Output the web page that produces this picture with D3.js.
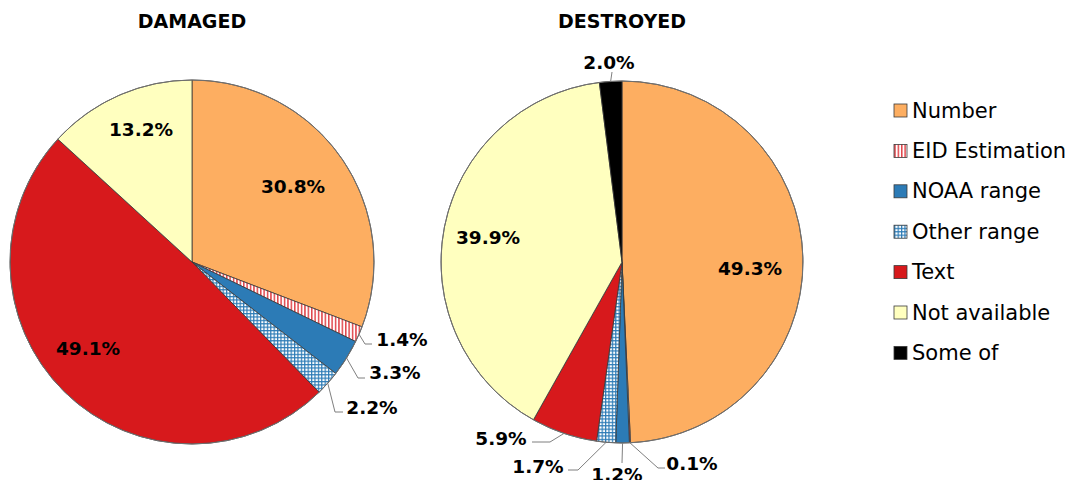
<!DOCTYPE html>
<html>
<head>
<meta charset="utf-8">
<script src="https://cdn.jsdelivr.net/npm/d3@7"></script>
<style>
  html, body { margin: 0; padding: 0; background: #ffffff; }
  svg { display: block; }
</style>
</head>
<body>
<div id="chart"></div>
<script>
// ---------- DATA ----------
const categories = ["Number", "EID Estimation", "NOAA range", "Other range", "Text", "Not available", "Some of"];
const damagedValues   = [30.8, 1.4, 3.3, 2.2, 49.1, 13.2, 0];
const destroyedValues = [49.3, 0.1, 1.2, 1.7, 5.9, 39.9, 2.0];
const chartTitles = ["DAMAGED", "DESTROYED"];

// ---------- LAYOUT / STYLE ----------
const W = 1070, H = 480;
const fills = ["#FDAE61", "url(#eidPat)", "#2C7BB6", "url(#otherPat)", "#D7191C", "#FFFFBF", "#000000"];

// label placement relative to pie centre (text centre), plus leader line points
const damagedLabelLayout = [
  {type: "in",  x: 101, y: -76},
  {type: "out", x: 210, y: 77,  elbow: [173, 82],  end: [180, 82]},
  {type: "out", x: 203, y: 110, elbow: [166, 116], end: [173, 116]},
  {type: "out", x: 180, y: 145, elbow: [143, 150], end: [151, 150]},
  {type: "in",  x: -104, y: 86},
  {type: "in",  x: -51, y: -133},
  null
];
const destroyedLabelLayout = [
  {type: "in",  x: 128, y: 6},
  {type: "out", x: 70,  y: 201, elbow: [36, 206],  end: [43, 206]},
  {type: "out", x: -5,  y: 212, elbow: [0, 201],   end: [0, 201]},
  {type: "out", x: -84, y: 204, elbow: [-44, 208], end: [-54, 208]},
  {type: "out", x: -121, y: 176, elbow: [-72, 180], end: [-90, 180]},
  {type: "in",  x: -134, y: -25},
  {type: "out", x: -13, y: -200, elbow: [-10, -190], end: [-10, -190]}
];

const pies = [
  {title: chartTitles[0], values: damagedValues,   cx: 192, cy: 262, r: 182, layout: damagedLabelLayout},
  {title: chartTitles[1], values: destroyedValues, cx: 622, cy: 262, r: 181, layout: destroyedLabelLayout}
];

const svg = d3.select("#chart").append("svg")
  .attr("width", W).attr("height", H)
  .attr("font-family", "'DejaVu Sans', Verdana, sans-serif");

// patterns
const defs = svg.append("defs");
const eid = defs.append("pattern").attr("id", "eidPat")
  .attr("patternUnits", "userSpaceOnUse").attr("width", 3.4).attr("height", 10);
eid.append("rect").attr("width", 3.4).attr("height", 10).attr("fill", "#ffffff");
eid.append("rect").attr("x", 0).attr("width", 1.5).attr("height", 10).attr("fill", "#E0454A");

const oth = defs.append("pattern").attr("id", "otherPat")
  .attr("patternUnits", "userSpaceOnUse").attr("width", 3.4).attr("height", 3.4);
oth.append("rect").attr("width", 3.4).attr("height", 3.4).attr("fill", "#2C7BB6");
oth.append("rect").attr("x", 1.2).attr("y", 1.2).attr("width", 2.2).attr("height", 2.2).attr("fill", "#ffffff");

const pieGen = d3.pie().sort(null).value(d => d);
const fmt = v => d3.format(".1f")(v) + "%";

pies.forEach(p => {
  const g = svg.append("g").attr("transform", `translate(${p.cx},${p.cy})`);
  const arcs = pieGen(p.values);
  const arcGen = d3.arc().innerRadius(0).outerRadius(p.r);

  g.selectAll("path.slice").data(arcs.filter(a => a.data > 0)).join("path")
    .attr("class", "slice")
    .attr("d", arcGen)
    .attr("fill", (d) => fills[d.index])
    .attr("stroke", "#3a3a3a")
    .attr("stroke-width", 0.8);

  g.append("circle").attr("r", p.r).attr("fill", "none")
    .attr("stroke", "#707070").attr("stroke-width", 1);

  svg.append("text")
    .attr("x", p.cx).attr("y", 28)
    .attr("text-anchor", "middle")
    .attr("font-weight", "bold")
    .attr("font-size", 19)
    .attr("fill", "#000")
    .text(p.title);

  arcs.forEach((a, i) => {
    const L = p.layout[i];
    if (!L || a.data <= 0) return;
    if (L.type === "out") {
      const mid = (a.startAngle + a.endAngle) / 2;
      const sx = p.r * Math.sin(mid), sy = -p.r * Math.cos(mid);
      g.append("path")
        .attr("d", d3.line()([[sx, sy], L.elbow, L.end]))
        .attr("fill", "none")
        .attr("stroke", "#7f7f7f")
        .attr("stroke-width", 1);
    }
    g.append("text")
      .attr("x", L.x).attr("y", L.y + 6.8)
      .attr("text-anchor", "middle")
      .attr("font-weight", "bold")
      .attr("font-size", 18.5)
      .attr("fill", "#000")
      .text(fmt(a.data));
  });
});

// legend
const legend = svg.append("g");
const legendX = 894, legendY0 = 110.5, legendStep = 40.4;
categories.forEach((c, i) => {
  const y = legendY0 + i * legendStep;
  legend.append("rect")
    .attr("x", legendX).attr("y", y - 6.5)
    .attr("width", 13).attr("height", 13)
    .attr("fill", fills[i])
    .attr("stroke", "#3a3a3a").attr("stroke-width", 0.8);
  legend.append("text")
    .attr("x", legendX + 18).attr("y", y + 7)
    .attr("font-size", 21)
    .attr("fill", "#000")
    .text(c);
});
</script>
</body>
</html>
